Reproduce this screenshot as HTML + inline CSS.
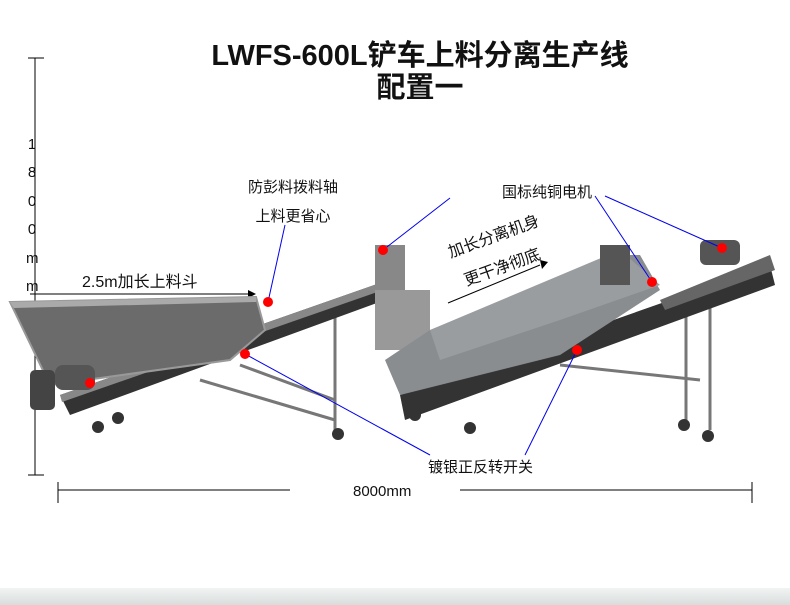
<!DOCTYPE html>
<html><head><meta charset="utf-8"><style>
body{margin:0;width:790px;height:605px;background:#fff;overflow:hidden;position:relative;font-family:"Liberation Sans","Noto Sans CJK SC",sans-serif}
.t{position:absolute;white-space:nowrap;color:#111}
</style></head><body>
<div style="position:absolute;left:0;top:588px;width:790px;height:17px;background:linear-gradient(#f2f4f4,#d8dddc)"></div>
<div class="t" style="left:0;width:840px;text-align:center;top:40px;font-size:29px;font-weight:bold;line-height:32px">LWFS-600L铲车上料分离生产线<br>配置一</div>
<svg width="790" height="605" style="position:absolute;left:0;top:0">
<g stroke="#000" stroke-width="1">
<line x1="35" y1="58" x2="35" y2="475"/><line x1="28" y1="58" x2="44" y2="58"/><line x1="28" y1="475" x2="44" y2="475"/>
<line x1="58" y1="490" x2="290" y2="490"/><line x1="460" y1="490" x2="752" y2="490"/>
<line x1="58" y1="482" x2="58" y2="503"/><line x1="752" y1="482" x2="752" y2="503"/>
<line x1="30" y1="294" x2="248" y2="294"/></g>
<polygon points="248,290 256,294 248,298" fill="#000"/>
<line x1="448" y1="303" x2="540" y2="265" stroke="#000"/><polygon points="540,260 548,262 542,269" fill="#000"/>
<g fill="none" stroke="#777" stroke-width="3">
<line x1="200" y1="380" x2="335" y2="420"/><line x1="335" y1="305" x2="335" y2="430"/>
<line x1="240" y1="365" x2="335" y2="400"/>
<line x1="420" y1="330" x2="420" y2="370"/><line x1="686" y1="300" x2="686" y2="420"/><line x1="710" y1="290" x2="710" y2="430"/>
<line x1="560" y1="365" x2="700" y2="380"/>
</g>
<polygon points="60,395 380,283 385,300 70,415" fill="#333"/>
<polygon points="60,395 380,283 383,290 62,402" fill="#888"/>
<polygon points="10,302 256,297 265,330 230,360 50,385" fill="#6b6b6b" stroke="#999" stroke-width="2"/>
<polygon points="10,302 256,297 256,302 14,308" fill="#aaa"/>
<rect x="55" y="365" width="40" height="25" rx="8" fill="#555"/>
<rect x="30" y="370" width="25" height="40" rx="5" fill="#444"/>
<g fill="#333"><circle cx="98" cy="427" r="6"/><circle cx="118" cy="418" r="6"/><circle cx="338" cy="434" r="6"/></g>
<rect x="375" y="245" width="30" height="65" fill="#888"/><rect x="375" y="290" width="55" height="60" fill="#999"/>
<polygon points="400,395 770,265 775,285 405,420" fill="#333"/>
<polygon points="385,360 430,330 620,255 640,255 660,290 560,355 400,395" fill="#8a8d90"/>
<polygon points="430,330 620,250 660,285 560,320 440,360" fill="#9a9da0"/>
<rect x="600" y="245" width="30" height="40" fill="#555"/>
<polygon points="660,300 770,255 775,270 665,310" fill="#666"/>
<rect x="700" y="240" width="40" height="25" rx="6" fill="#555"/>
<g fill="#333"><circle cx="470" cy="428" r="6"/><circle cx="684" cy="425" r="6"/><circle cx="708" cy="436" r="6"/><circle cx="415" cy="415" r="6"/></g>
<g stroke="#0000ee" stroke-width="1">
<line x1="285" y1="225" x2="268" y2="302"/>
<line x1="450" y1="198" x2="383" y2="250"/><line x1="595" y1="196" x2="652" y2="282"/><line x1="605" y1="196" x2="722" y2="248"/>
<line x1="430" y1="455" x2="245" y2="354"/><line x1="525" y1="455" x2="577" y2="350"/>
</g>
<g fill="#f00"><circle cx="268" cy="302" r="5"/><circle cx="245" cy="354" r="5"/><circle cx="90" cy="383" r="5"/><circle cx="383" cy="250" r="5"/><circle cx="652" cy="282" r="5"/><circle cx="722" cy="248" r="5"/><circle cx="577" cy="350" r="5"/></g>
</svg>
<div class="t" style="left:26px;top:131px;font-size:15px;line-height:28.4px;width:12px;text-align:center">1<br>8<br>0<br>0<br>m<br>m</div>
<div class="t" style="left:248px;top:173px;font-size:15px;line-height:29px;text-align:center">防彭料拨料轴<br>上料更省心</div>
<div class="t" style="left:502px;top:181px;font-size:15px">国标纯铜电机</div>
<div class="t" style="left:82px;top:268px;font-size:16px">2.5m加长上料斗</div>
<div class="t" style="left:444px;top:240px;font-size:16px;transform:rotate(-20deg);transform-origin:left top">加长分离机身</div>
<div class="t" style="left:460px;top:268px;font-size:16px;transform:rotate(-20deg);transform-origin:left top">更干净彻底</div>
<div class="t" style="left:428px;top:456px;font-size:15px">镀银正反转开关</div>
<div class="t" style="left:353px;top:483px;font-size:15px">8000mm</div>
</body></html>
